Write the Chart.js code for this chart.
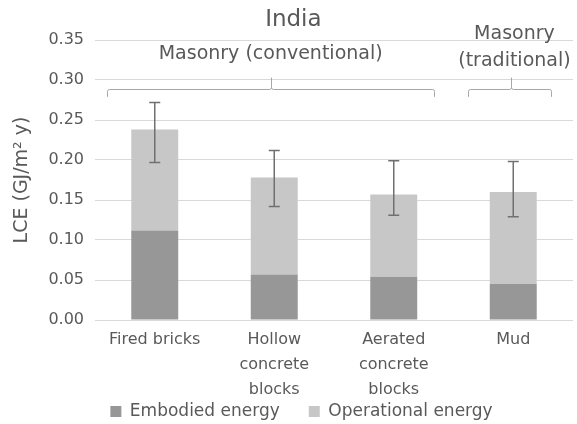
<!DOCTYPE html>
<html>
<head>
<meta charset="utf-8">
<script src="https://cdn.jsdelivr.net/npm/chart.js@4"></script>
<style>
  html, body { margin: 0; padding: 0; background: #ffffff; }
  #wrap { width: 577px; height: 424px; position: relative; }
</style>
</head>
<body>
<div id="wrap"><canvas id="c"></canvas></div>
<script>
// ---- data ----
const categories = [['Fired bricks'], ['Hollow', 'concrete', 'blocks'], ['Aerated', 'concrete', 'blocks'], ['Mud']];
const embodied = [0.112, 0.057, 0.054, 0.045];
const operational = [0.126, 0.121, 0.103, 0.115];
const errLow = [0.197, 0.142, 0.131, 0.129];
const errHigh = [0.272, 0.212, 0.199, 0.198];
const seriesNames = ['Embodied energy', 'Operational energy'];
const chartTitle = 'India';
const yTitle = 'LCE (GJ/m\u00B2 y)';
const yTicks = [0, 0.05, 0.10, 0.15, 0.20, 0.25, 0.30, 0.35];
// group brackets: label lines, from index, to index, middle index
const groupLabels = [['Masonry (conventional)'], ['Masonry', '(traditional)']];
const groupFrom = [-0.4, 2.62];
const groupTo = [2.34, 3.32];
const groupMid = [0.97, 2.98];

const textColor = '#595959';
const FONT = 'DejaVu Sans';

const errorBarPlugin = {
  id: 'errorBars',
  afterDatasetsDraw(chart) {
    const ctx = chart.ctx;
    const xs = chart.scales.x, ys = chart.scales.y;
    ctx.save();
    ctx.strokeStyle = '#707070';
    ctx.lineWidth = 1.5;
    for (let i = 0; i < categories.length; i++) {
      const x = xs.getPixelForValue(i);
      const yt = ys.getPixelForValue(errHigh[i]);
      const yb = ys.getPixelForValue(errLow[i]);
      ctx.beginPath();
      ctx.moveTo(x, yt); ctx.lineTo(x, yb);
      ctx.moveTo(x - 5.5, yt); ctx.lineTo(x + 5.5, yt);
      ctx.moveTo(x - 5.5, yb); ctx.lineTo(x + 5.5, yb);
      ctx.stroke();
    }
    ctx.restore();
  }
};

const groupPlugin = {
  id: 'groups',
  afterDraw(chart) {
    const ctx = chart.ctx;
    const xs = chart.scales.x, ys = chart.scales.y;
    const yLine = ys.getPixelForValue(0.289);
    const yEnd = ys.getPixelForValue(0.279);
    const yTick = ys.getPixelForValue(0.303);
    ctx.save();
    ctx.strokeStyle = '#a6a6a6';
    ctx.lineWidth = 1;
    for (let g = 0; g < groupLabels.length; g++) {
      const x0 = Math.round(xs.getPixelForValue(groupFrom[g])) + 0.5;
      const x1 = Math.round(xs.getPixelForValue(groupTo[g])) + 0.5;
      const xm = Math.round(xs.getPixelForValue(groupMid[g])) + 0.5;
      const yl = Math.round(yLine) + 0.5;
      ctx.beginPath();
      ctx.moveTo(x0, yEnd); ctx.lineTo(x0, yl + 2);
      ctx.quadraticCurveTo(x0, yl, x0 + 2, yl);
      ctx.lineTo(xm - 2, yl);
      ctx.quadraticCurveTo(xm, yl, xm, yl - 2);
      ctx.lineTo(xm, yTick);
      ctx.moveTo(xm, yl - 2);
      ctx.quadraticCurveTo(xm, yl, xm + 2, yl);
      ctx.lineTo(x1 - 2, yl);
      ctx.quadraticCurveTo(x1, yl, x1, yl + 2);
      ctx.lineTo(x1, yEnd);
      ctx.stroke();
    }
    ctx.fillStyle = textColor;
    ctx.textAlign = 'center';
    ctx.textBaseline = 'middle';
    // chart title
    ctx.font = '23px "' + FONT + '"';
    ctx.fillText(chartTitle, xs.getPixelForValue(1.16), ys.getPixelForValue(0.375));
    ctx.font = '19px "' + FONT + '"';
    // conventional label
    ctx.fillText(groupLabels[0][0], xs.getPixelForValue(groupMid[0]), ys.getPixelForValue(0.333));
    // traditional labels (two lines)
    ctx.fillText(groupLabels[1][0], xs.getPixelForValue(groupMid[1] + 0.03), ys.getPixelForValue(0.3575));
    ctx.fillText(groupLabels[1][1], xs.getPixelForValue(groupMid[1] + 0.03), ys.getPixelForValue(0.324));
    ctx.restore();
  }
};

new Chart(document.getElementById('c'), {
  type: 'bar',
  data: {
    labels: categories,
    datasets: [
      { label: seriesNames[0], data: embodied, backgroundColor: '#979797', borderWidth: 0 },
      { label: seriesNames[1], data: operational, backgroundColor: '#c7c7c7', borderWidth: 0 }
    ]
  },
  options: {
    responsive: true,
    maintainAspectRatio: false,
    animation: false,
    layout: { padding: { left: 30, right: 4, top: 40, bottom: -6 } },
    datasets: { bar: { categoryPercentage: 1.0, barPercentage: 0.393 } },
    plugins: {
      tooltip: { enabled: false },
      title: { display: false },
      legend: {
        position: 'bottom',
        labels: {
          color: textColor,
          font: { family: FONT, size: 17 },
          boxWidth: 11, boxHeight: 11, padding: 29
        }
      }
    },
    scales: {
      x: {
        stacked: true,
        grid: { display: false, drawTicks: false },
        border: { display: false },
        ticks: {
          color: textColor, padding: 7,
          font: { family: FONT, size: 16, lineHeight: 1.5625 },
          maxRotation: 0, autoSkip: false
        },
        afterFit(s) {
          s.height = 54;
          s._computeLabelArea = () => null;
        }
      },
      y: {
        stacked: true,
        min: 0, max: 0.35,
        afterBuildTicks(s) { s.ticks = yTicks.map(v => ({ value: v })); },
        grid: { color: '#d9d9d9', lineWidth: 1, drawTicks: false },
        border: { display: false },
        ticks: {
          color: textColor, padding: 11,
          font: { family: FONT, size: 16 },
          callback: v => Number(v).toFixed(2)
        },
        title: {
          display: true, text: yTitle, color: textColor,
          font: { family: FONT, size: 19 },
          padding: { top: -19.4, bottom: 0 }
        },
        afterFit(s) { s.width = 65; }
      }
    }
  },
  plugins: [errorBarPlugin, groupPlugin]
});
</script>
</body>
</html>
